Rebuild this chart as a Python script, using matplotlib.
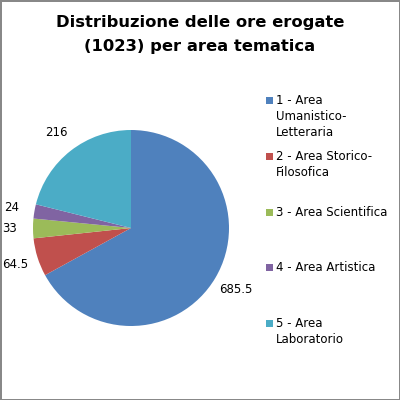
import matplotlib.pyplot as plt
from matplotlib.patches import Rectangle

# dati del grafico
categorie = ['1 - Area\nUmanistico-\nLetteraria', '2 - Area Storico-\nFilosofica',
             '3 - Area Scientifica', '4 - Area Artistica', '5 - Area\nLaboratorio']
ore = [685.5, 64.5, 33, 24, 216]
etichette = ['685.5', '64.5', '33', '24', '216']
colori = ['#4F81BD', '#C0504D', '#9BBB59', '#8064A2', '#4BACC6']

fig = plt.figure(figsize=(4, 4), dpi=100, edgecolor='#888888', linewidth=2)
ax = fig.add_axes([0.0825, 0.185, 0.49, 0.49])

wedges, testi = ax.pie(ore, labels=etichette, colors=colori, startangle=90,
                       counterclock=False, labeldistance=1.24,
                       textprops={'fontsize': 8.5})
for t in testi:
    t.set_ha('center')
    t.set_va('center')
ax.set_xlim(-1, 1)
ax.set_ylim(-1, 1)
ax.set_aspect('equal')

# titolo (due righe)
titolo = ['Distribuzione delle ore erogate', '(1023) per area tematica']
for y, riga in zip([23, 47], titolo):
    fig.text(0.5, 1 - y / 400, riga, ha='center', va='center',
             fontsize=11.8, fontweight='bold')

# legenda manuale
y_top = [95, 151, 207, 262, 318]
for y, lab, c in zip(y_top, categorie, colori):
    fig.patches.append(Rectangle((266 / 400, 1 - (y + 9) / 400), 7 / 400, 7 / 400,
                                 transform=fig.transFigure, facecolor=c, edgecolor='none'))
    fig.text(276 / 400, 1 - (y - 1) / 400, lab, ha='left', va='top', fontsize=8.5,
             linespacing=1.3)

plt.savefig('out.png', dpi=100)
